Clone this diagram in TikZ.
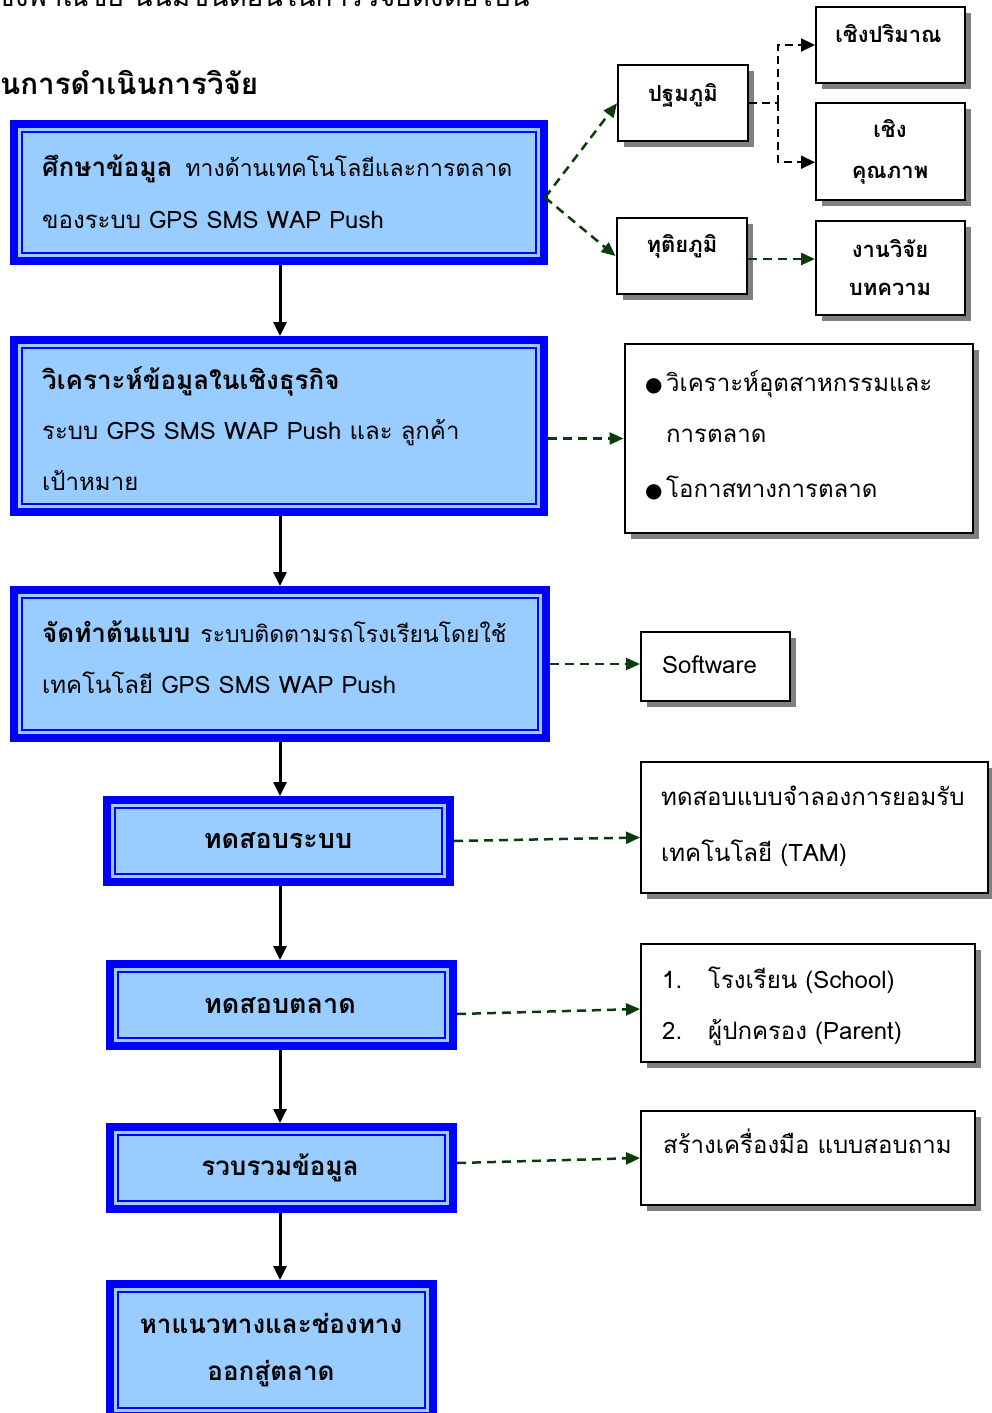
\documentclass[tikz,border=0pt]{standalone}
\usepackage{fontspec}
\setmainfont[Script=Thai]{Loma}
\newfontfamily\symfont{DejaVu Sans}
\usetikzlibrary{arrows.meta,shadows,calc}

\definecolor{frameblue}{HTML}{0000FF}
\definecolor{boxfill}{HTML}{99CCFF}
\definecolor{linkgreen}{HTML}{0B3B0B}
\definecolor{shade}{HTML}{808080}

\tikzset{
  mainbox/.style={rectangle, draw=frameblue, line width=8pt, fill=boxfill,
    outer sep=4pt, inner sep=0pt},
  innerframe/.style={draw=frameblue, line width=2.5pt},
  sidebox/.style={rectangle, draw=black, line width=2pt, fill=white,
    outer sep=1pt, inner sep=0pt,
    general shadow={fill=shade, shadow xshift=6pt, shadow yshift=-6pt}},
  txt/.style={inner sep=0pt, anchor=base west},
  ctr/.style={inner sep=0pt, anchor=base},
  flow/.style={draw=black, line width=3pt, -{Triangle[length=14pt,width=13pt]}},
  link/.style={draw=linkgreen, line width=2.5pt, dash pattern=on 9pt off 6pt,
    -{Triangle[length=14pt,width=12pt]}},
  fork/.style={draw=black, line width=2pt, dash pattern=on 8pt off 5pt},
  forktip/.style={fork, -{Triangle[length=14pt,width=13pt]}},
}

\newcommand{\bodyfont}{\fontsize{24}{30}\selectfont}
\newcommand{\tightfont}{\fontsize{23}{30}\selectfont}
\newcommand{\leadfont}{\fontsize{26}{30}\selectfont\bfseries}
\newcommand{\sidefont}{\fontsize{22}{28}\selectfont\bfseries}
\newcommand{\dotmark}{\makebox[21pt][l]{\symfont\fontsize{20}{24}\selectfont ●}}

\begin{document}
\begin{tikzpicture}[x=1pt, y=-1pt, font=\bodyfont]
\useasboundingbox (0,0) rectangle (992,1413);
\clip (0,0) rectangle (992,1413);

% heading lines
\node[txt, font=\fontsize{28}{32}\selectfont] (intro) at (-14,7) {เชิงพาณิชย์ นั้นมีขั้นตอนในการวิจัยดังต่อไปนี้};
\node[txt, font=\fontsize{29.5}{34}\selectfont\bfseries] (title) at (0,94) {นการดำเนินการวิจัย};

% main process column
\node[mainbox, minimum width=530pt, minimum height=137pt] (b1) at (279,192.5) {};
\node[mainbox, minimum width=530pt, minimum height=172pt] (b2) at (279,426) {};
\node[mainbox, minimum width=532pt, minimum height=148pt] (b3) at (280,664) {};
\node[mainbox, minimum width=343pt, minimum height=82pt] (b4) at (278.5,841) {};
\node[mainbox, minimum width=343pt, minimum height=82pt] (b5) at (281.5,1005) {};
\node[mainbox, minimum width=343pt, minimum height=82pt] (b6) at (281.5,1168) {};
\node[mainbox, minimum width=323pt, minimum height=132pt] (b7) at (271.5,1350) {};
\foreach \b in {b1,b2,b3,b4,b5,b6,b7}
  \draw[innerframe] ([shift={(12,12)}]\b.north west) rectangle ([shift={(-12,-12)}]\b.south east);

\node[txt, font=\tightfont] (b1a) at (42,176) {{\leadfont ศึกษาข้อมูล}\hspace{13pt}ทางด้านเทคโนโลยีและการตลาด};
\node[txt] (b1b) at (42,228) {ของระบบ GPS SMS WAP Push};
\node[txt, font=\leadfont] (b2a) at (42,389) {วิเคราะห์ข้อมูลในเชิงธุรกิจ};
\node[txt] (b2b) at (42,439) {ระบบ GPS SMS WAP Push และ ลูกค้า};
\node[txt] (b2c) at (42,490) {เป้าหมาย};
\node[txt, font=\tightfont] (b3a) at (42,642) {{\leadfont จัดทำต้นแบบ}\hspace{10pt}ระบบติดตามรถโรงเรียนโดยใช้};
\node[txt] (b3b) at (42,693) {เทคโนโลยี GPS SMS WAP Push};
\node[ctr, font=\fontsize{27}{30}\selectfont\bfseries] (b4a) at (278,848) {ทดสอบระบบ};
\node[ctr, font=\fontsize{27}{30}\selectfont\bfseries] (b5a) at (280,1013) {ทดสอบตลาด};
\node[ctr, font=\leadfont] (b6a) at (280,1175) {รวบรวมข้อมูล};
\node[ctr, font=\leadfont] (b7a) at (271,1333) {หาแนวทางและช่องทาง};
\node[ctr, font=\leadfont] (b7b) at (271,1380) {ออกสู่ตลาด};

% flow arrows down the column
\coordinate (spine) at (280,0);
\draw[flow] (b1.south -| spine) -- (b2.north -| spine);
\draw[flow] (b2.south -| spine) -- (b3.north -| spine);
\draw[flow] (b3.south -| spine) -- (b4.north -| spine);
\draw[flow] (b4.south -| spine) -- (b5.north -| spine);
\draw[flow] (b5.south -| spine) -- (b6.north -| spine);
\draw[flow] (b6.south -| spine) -- (b7.north -| spine);

% side boxes
\node[sidebox, minimum width=129.5pt, minimum height=75.5pt] (r1) at (682.75,103.25) {};
\node[sidebox, minimum width=130.5pt, minimum height=76pt] (r2) at (681.75,256) {};
\node[sidebox, minimum width=149pt, minimum height=76pt] (r3) at (890.5,45) {};
\node[sidebox, minimum width=149pt, minimum height=96.5pt] (r4) at (890.5,151.25) {};
\node[sidebox, minimum width=149pt, minimum height=94.5pt] (r5) at (890.5,267.75) {};
\node[sidebox, minimum width=348.5pt, minimum height=189pt] (r6) at (798.75,438.5) {};
\node[sidebox, minimum width=149pt, minimum height=69pt] (r7) at (715.5,666.5) {};
\node[sidebox, minimum width=346.5pt, minimum height=131pt] (r8) at (814.25,827.5) {};
\node[sidebox, minimum width=334pt, minimum height=118pt] (r9) at (808,1002.5) {};
\node[sidebox, minimum width=334pt, minimum height=94pt] (r10) at (808,1158) {};

\node[ctr, font=\sidefont] (r1a) at (683,101) {ปฐมภูมิ};
\node[ctr, font=\sidefont] (r2a) at (682,252) {ทุติยภูมิ};
\node[ctr, font=\sidefont] (r3a) at (888.5,43) {เชิงปริมาณ};
\node[ctr, font=\sidefont] (r4a) at (890,137) {เชิง};
\node[ctr, font=\sidefont] (r4b) at (890,178) {คุณภาพ};
\node[ctr, font=\sidefont] (r5a) at (890,257) {งานวิจัย};
\node[ctr, font=\sidefont] (r5b) at (890,295) {บทความ};

\node[txt] (r6a) at (645,391) {\dotmark วิเคราะห์อุตสาหกรรมและ};
\node[txt] (r6b) at (666,442) {การตลาด};
\node[txt] (r6c) at (645,497) {\dotmark โอกาสทางการตลาด};
\node[txt] (r7a) at (662,673) {Software};
\node[txt] (r8a) at (661,805) {ทดสอบแบบจำลองการยอมรับ};
\node[txt] (r8b) at (661,861) {เทคโนโลยี (TAM)};
\node[txt] (r9a) at (662,988) {1.};
\node[txt] (r9b) at (708,988) {โรงเรียน (School)};
\node[txt] (r9c) at (662,1039) {2.};
\node[txt] (r9d) at (708,1039) {ผู้ปกครอง (Parent)};
\node[txt] (r10a) at (663,1153) {สร้างเครื่องมือ แบบสอบถาม};

% links to the side boxes
\draw[link] ([shift={(-3,5)}]b1.east) -- (r1.west);
\draw[link] ([shift={(-3,5)}]b1.east) -- (r2.west);
\coordinate (forkx) at (778,0);
\draw[fork] (r1.east) -- (r1.east -| forkx) coordinate (split);
\draw[forktip] (split) |- (r3.west);
\draw[forktip] (split) |- ([shift={(0,11)}]r4.west);
\draw[link] ([shift={(0,3)}]r2.east) -- ([shift={(0,3)}]r2.east -| r5.west);
\draw[link] (b2.east |- r6.west) -- (r6.west);
\draw[link] (b3.east) -- (b3.east -| r7.west);
\draw[link] (b4.east) -- ([shift={(0,10)}]r8.west);
\draw[link] ([shift={(0,9)}]b5.east) -- ([shift={(0,6.5)}]r9.west);
\draw[link] ([shift={(0,-5)}]b6.east) -- (r10.west);
\end{tikzpicture}
\end{document}
